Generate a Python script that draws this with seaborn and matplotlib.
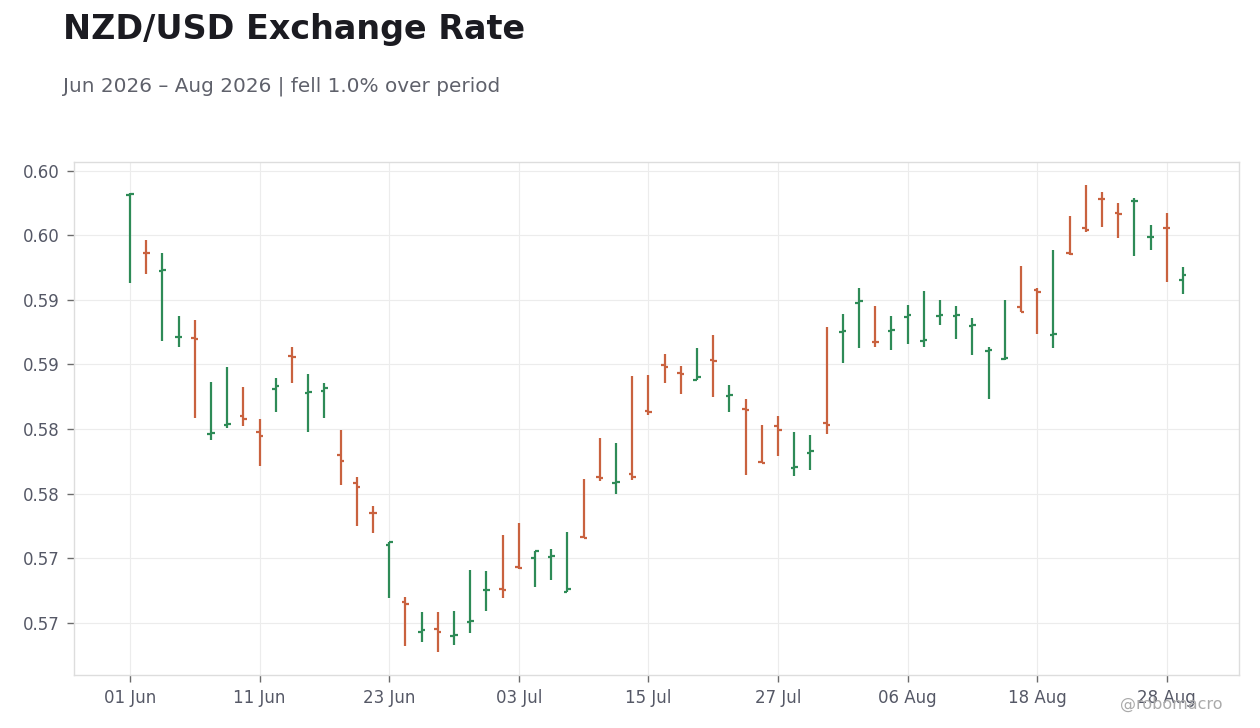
import numpy as np
import pandas as pd
import seaborn as sns
import matplotlib.pyplot as plt
from matplotlib.ticker import FixedLocator, FuncFormatter

# --- Datos OHLC diarios (días hábiles, 01 Jun – 31 Ago 2026) ---
opens = [0.60061, 0.59613, 0.59472, 0.58958, 0.58952, 0.58214, 0.58281, 0.58348, 0.58224, 0.58557,
         0.58813, 0.58526, 0.58547, 0.58045, 0.57828, 0.57603, 0.57348, 0.56914, 0.56681, 0.56704,
         0.56645, 0.56758, 0.57004, 0.57014, 0.57185, 0.57252, 0.57260, 0.56991, 0.57417, 0.57878,
         0.57834, 0.57898, 0.58386, 0.58743, 0.58681, 0.58632, 0.58782, 0.58503, 0.58402, 0.57993,
         0.58270, 0.57945, 0.58061, 0.58293, 0.59004, 0.59224, 0.58923, 0.59012, 0.59115, 0.58929,
         0.59128, 0.59128, 0.59045, 0.58852, 0.58790, 0.59193, 0.59324, 0.58976, 0.59611, 0.59805,
         0.60031, 0.59921, 0.60012, 0.59734, 0.59807, 0.59402]
highs = [0.60074, 0.59710, 0.59609, 0.59128, 0.59097, 0.58617, 0.58733, 0.58578, 0.58330, 0.58648,
         0.58888, 0.58679, 0.58609, 0.58245, 0.57880, 0.57655, 0.57376, 0.56950, 0.56834, 0.56834,
         0.56841, 0.57159, 0.57152, 0.57431, 0.57524, 0.57309, 0.57322, 0.57454, 0.57865, 0.58183,
         0.58144, 0.58663, 0.58671, 0.58834, 0.58738, 0.58880, 0.58981, 0.58593, 0.58485, 0.58283,
         0.58353, 0.58229, 0.58206, 0.59043, 0.59136, 0.59338, 0.59198, 0.59121, 0.59206, 0.59314,
         0.59252, 0.59198, 0.59105, 0.58888, 0.59245, 0.59508, 0.59338, 0.59632, 0.59896, 0.60136,
         0.60082, 0.59997, 0.60035, 0.59826, 0.59919, 0.59500]
lows = [0.59379, 0.59448, 0.58929, 0.58883, 0.58332, 0.58162, 0.58255, 0.58270, 0.57965, 0.58379,
        0.58603, 0.58224, 0.58332, 0.57813, 0.57495, 0.57448, 0.56945, 0.56572, 0.56603, 0.56526,
        0.56580, 0.56673, 0.56844, 0.56945, 0.57165, 0.57030, 0.57084, 0.56986, 0.57405, 0.57844,
        0.57743, 0.57852, 0.58355, 0.58603, 0.58518, 0.58630, 0.58495, 0.58379, 0.57890, 0.57986,
        0.58038, 0.57883, 0.57929, 0.58208, 0.58759, 0.58875, 0.58883, 0.58859, 0.58906, 0.58883,
        0.59053, 0.58945, 0.58821, 0.58479, 0.58782, 0.59159, 0.58983, 0.58875, 0.59596, 0.59774,
        0.59813, 0.59728, 0.59588, 0.59635, 0.59386, 0.59293]
closes = [0.60072, 0.59609, 0.59479, 0.58963, 0.58950, 0.58219, 0.58289, 0.58324, 0.58193, 0.58580,
          0.58805, 0.58534, 0.58565, 0.57999, 0.57797, 0.57596, 0.57375, 0.56898, 0.56697, 0.56681,
          0.56658, 0.56766, 0.57007, 0.57004, 0.57172, 0.57309, 0.57270, 0.57014, 0.57407, 0.57873,
          0.57836, 0.57880, 0.58382, 0.58728, 0.58673, 0.58650, 0.58779, 0.58510, 0.58394, 0.57989,
          0.58239, 0.57955, 0.58076, 0.58278, 0.59008, 0.59237, 0.58920, 0.59016, 0.59131, 0.58937,
          0.59132, 0.59132, 0.59053, 0.58862, 0.58797, 0.59159, 0.59309, 0.58983, 0.59607, 0.59787,
          0.60028, 0.59914, 0.60014, 0.59737, 0.59804, 0.59441]

dates = pd.bdate_range("2026-06-01", "2026-08-31")
tick_every = 8
y_ticks = [0.5675, 0.5725, 0.5775, 0.5825, 0.5875, 0.5925, 0.5975, 0.6025]

UP = "#2e8b57"
DOWN = "#c9623f"

df = pd.DataFrame({"date": dates, "open": opens, "high": highs, "low": lows, "close": closes})
df["idx"] = np.arange(len(df))
df["color"] = np.where(df["close"] >= df["open"], UP, DOWN)

sns.set_theme(style="whitegrid")
plt.rcParams['font.family'] = ['DejaVu Sans']

fig = plt.figure(figsize=(12.6, 7.28), dpi=100)
ax = fig.add_axes([0.0587, 0.0728, 0.9246, 0.7047])

# --- Barras OHLC ---
w = 0.22
ax.vlines(df["idx"], df["low"], df["high"], colors=df["color"], linewidth=1.6)
ax.hlines(df["open"], df["idx"] - w, df["idx"], colors=df["color"], linewidth=1.6)
ax.hlines(df["close"], df["idx"], df["idx"] + w, colors=df["color"], linewidth=1.6)

ax.set_xlim(-3.46, len(df) - 1 + 3.46)
ymin, ymax = min(lows), max(highs)
pad = (ymax - ymin) * 0.05
ax.set_ylim(ymin - pad, ymax + pad)

ax.yaxis.set_major_locator(FixedLocator(y_ticks))
ax.yaxis.set_major_formatter(FuncFormatter(lambda v, _: f"{v + 1e-9:.2f}"))
xt = df["idx"][::tick_every]
ax.set_xticks(xt)
ax.set_xticklabels([d.strftime("%d %b") for d in df["date"][::tick_every]])

ax.grid(True, color="#ececec", linewidth=0.8)
for s in ax.spines.values():
    s.set_color("#dddddd")
    s.set_linewidth(1.0)
ax.tick_params(axis="both", which="major", left=True, bottom=True, length=5, width=1,
               color="#6b6b6b", labelsize=12, labelcolor="#555866", pad=5)
ax.set_xlabel("")
ax.set_ylabel("")

# --- Títulos ---
fig.text(0.05, 0.959, "NZD/USD Exchange Rate", fontsize=24, fontweight="bold",
         color="#1b1b21", ha="left", va="center")
fig.text(0.05, 0.882, "Jun 2026 – Aug 2026 | fell 1.0% over period", fontsize=14.4,
         color="#5f616b", ha="left", va="center")
fig.text(0.97, 0.032, "@robomacro", fontsize=11.5, color="#aaaaaa", ha="right", va="center")

fig.savefig("out.png", dpi=100)
